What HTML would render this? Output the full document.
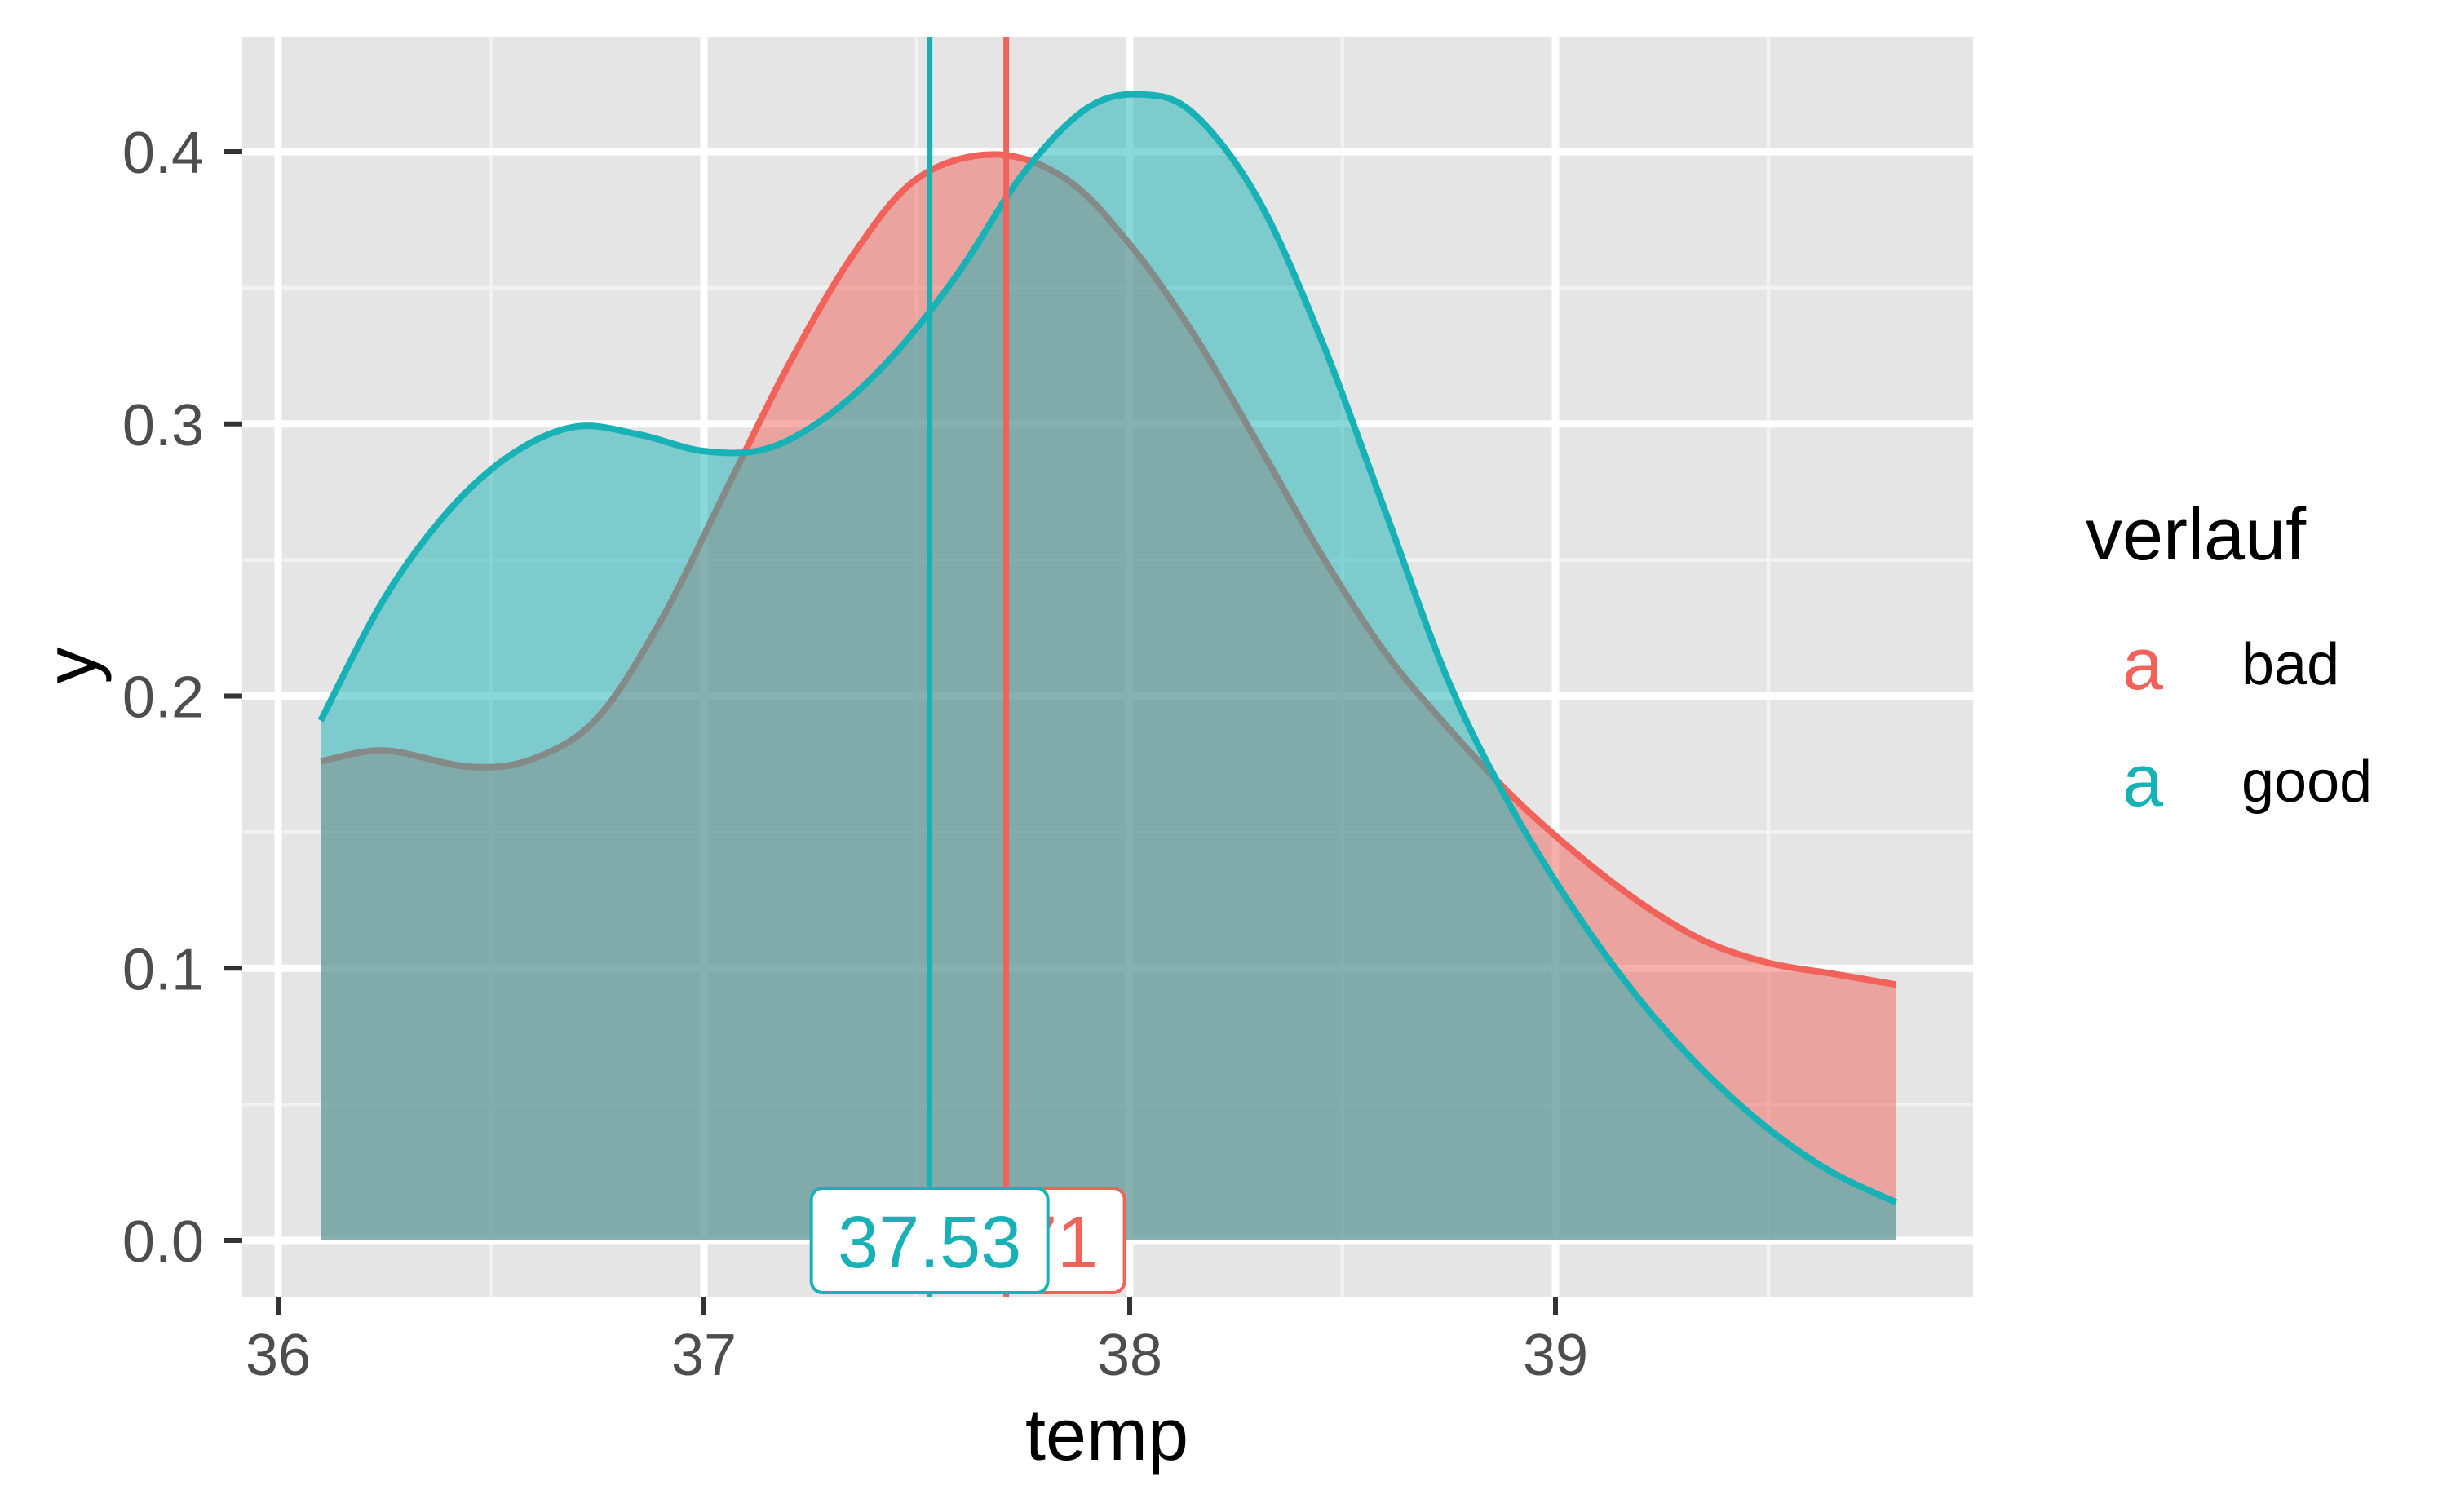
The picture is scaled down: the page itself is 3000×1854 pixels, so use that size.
<!DOCTYPE html>
<html><head><meta charset="utf-8"><style>
html,body{margin:0;padding:0;background:#fff;}
svg{display:block;font-family:"Liberation Sans",Arial,sans-serif;}
</style></head><body>
<svg id="chart" width="3000" height="1854" viewBox="0 0 3000 1854" xmlns="http://www.w3.org/2000/svg">
<rect x="0" y="0" width="3000" height="1854" fill="#fff"/>
<rect x="297" y="45" width="2122" height="1545" fill="#e5e5e5"/>
<g id="grid"></g>
<g id="marks"></g>
<g id="axes"></g>
<text x="1357" y="1790" font-size="90" text-anchor="middle" fill="#000">temp</text>
<text transform="translate(118,816) rotate(-90)" font-size="90" text-anchor="middle" fill="#000">y</text>
<g>
<text x="2557" y="686" font-size="90" fill="#000">verlauf</text>
<g>
<text x="2627" y="845" font-size="90" text-anchor="middle" fill="#F0625A">a</text>
<text x="2748" y="839" font-size="72" fill="#000">bad</text>
</g>
<g>
<text x="2627" y="988" font-size="90" text-anchor="middle" fill="#18B2B6">a</text>
<text x="2748" y="983" font-size="72" fill="#000">good</text>
</g>
</g>
</svg>
<script>
const xTicks = [36, 37, 38, 39];
const xMinor = [36.5, 37.5, 38.5, 39.5];
const yTicks = [0.0, 0.1, 0.2, 0.3, 0.4];
const yTickLabels = ["0.0", "0.1", "0.2", "0.3", "0.4"];
const yMinor = [0.05, 0.15, 0.25, 0.35];
const badX = [36.10,36.25,36.45,36.60,36.75,36.90,37.05,37.20,37.35,37.50,37.68,37.85,38.00,38.15,38.30,38.45,38.60,38.75,38.90,39.05,39.20,39.35,39.50,39.65,39.80];
const badY = [0.176,0.180,0.174,0.177,0.192,0.228,0.275,0.322,0.362,0.390,0.399,0.390,0.366,0.333,0.293,0.252,0.216,0.188,0.163,0.142,0.124,0.110,0.102,0.098,0.094];
const goodX = [36.10,36.25,36.40,36.55,36.70,36.85,37.00,37.15,37.30,37.45,37.60,37.75,37.90,38.03,38.15,38.30,38.45,38.60,38.75,38.90,39.05,39.20,39.35,39.50,39.65,39.80];
const goodY = [0.191,0.236,0.268,0.289,0.299,0.296,0.290,0.291,0.304,0.326,0.356,0.392,0.416,0.421,0.414,0.383,0.331,0.268,0.205,0.158,0.120,0.088,0.062,0.041,0.025,0.014];
const meanBad = 37.71;
const meanGood = 37.53;
const meanBadLabel = "37.71";
const meanGoodLabel = "37.53";

const NS = "http://www.w3.org/2000/svg";
const PL = 297, PR = 2419, PT = 45, PB = 1590;
const RED = '#F0625A', TEAL = '#18B2B6';
function X(t){ return 341 + (t - 36) * 522; }
function Y(v){ return 1521 - v * 3337.5; }
function mk(tag, attrs, parent){
  const e = document.createElementNS(NS, tag);
  for (const k in attrs) e.setAttribute(k, attrs[k]);
  parent.appendChild(e);
  return e;
}
const grid = document.getElementById('grid');
const marks = document.getElementById('marks');
const axes = document.getElementById('axes');

yMinor.forEach(v => {
  const l = mk('line', {x1:PL, x2:PR, y1:Y(v), y2:Y(v), stroke:'#f2f2f2', 'stroke-width':4.5}, grid);
  
  
});
xMinor.forEach(v => {
  const l = mk('line', {x1:X(v), x2:X(v), y1:PT, y2:PB, stroke:'#f2f2f2', 'stroke-width':4.5}, grid);
  
  
});
yTicks.forEach(v => {
  const l = mk('line', {x1:PL, x2:PR, y1:Y(v), y2:Y(v), stroke:'#fff', 'stroke-width':9}, grid);
  
  
});
xTicks.forEach(v => {
  const l = mk('line', {x1:X(v), x2:X(v), y1:PT, y2:PB, stroke:'#fff', 'stroke-width':9}, grid);
  
  
});

function smoothPath(xs, ys){
  const p = xs.map((x,i)=>[X(x), Y(ys[i])]);
  let d = 'M' + p[0][0] + ',' + p[0][1];
  for (let i=0;i<p.length-1;i++){
    const p0 = p[Math.max(0,i-1)], p1 = p[i], p2 = p[i+1], p3 = p[Math.min(p.length-1,i+2)];
    const c1x = p1[0] + (p2[0]-p0[0])/6, c1y = p1[1] + (p2[1]-p0[1])/6;
    const c2x = p2[0] - (p3[0]-p1[0])/6, c2y = p2[1] - (p3[1]-p1[1])/6;
    d += ' C' + c1x + ',' + c1y + ' ' + c2x + ',' + c2y + ' ' + p2[0] + ',' + p2[1];
  }
  return d;
}
function drawDensity(xs, ys, color, name){
  const line = smoothPath(xs, ys);
  const area = line + ' L' + X(xs[xs.length-1]) + ',' + Y(0) + ' L' + X(xs[0]) + ',' + Y(0) + ' Z';
  const a = mk('path', {d:area, fill:color, 'fill-opacity':0.5, stroke:'none'}, marks);
  
  
  const l = mk('path', {d:line, fill:'none', stroke:color, 'stroke-width':8}, marks);
  
  
}
drawDensity(badX, badY, RED, 'bad');
drawDensity(goodX, goodY, TEAL, 'good');

const vg = mk('line', {x1:X(meanGood), x2:X(meanGood), y1:PT, y2:PB, stroke:TEAL, 'stroke-width':7}, marks);


const vb = mk('line', {x1:X(meanBad), x2:X(meanBad), y1:PT, y2:PB, stroke:RED, 'stroke-width':7}, marks);



function drawLabel(val, txt, color, name){
  const cx = X(val), cy = Y(0);
  const g = mk('g', {}, marks);
  
  
  const r = mk('rect', {x:cx-145, y:cy-64, width:290, height:128, rx:14, ry:14, fill:'#fff', stroke:color, 'stroke-width':4}, g);
  
  
  const t = mk('text', {x:cx, y:cy+33, 'font-size':90, 'text-anchor':'middle', fill:color}, g);
  t.textContent = txt;
  
  
}
drawLabel(meanBad, meanBadLabel, RED, 'bad');
drawLabel(meanGood, meanGoodLabel, TEAL, 'good');

yTicks.forEach((v,i) => {
  const tk = mk('line', {x1:275, x2:297, y1:Y(v), y2:Y(v), stroke:'#333', 'stroke-width':6}, axes);
  
  
  const t = mk('text', {x:250, y:Y(v)+26, 'font-size':72, 'text-anchor':'end', fill:'#4d4d4d'}, axes);
  t.textContent = yTickLabels[i];
  
  
});
xTicks.forEach(v => {
  const tk = mk('line', {x1:X(v), x2:X(v), y1:1590, y2:1612, stroke:'#333', 'stroke-width':6}, axes);
  
  
  const t = mk('text', {x:X(v), y:1686, 'font-size':72, 'text-anchor':'middle', fill:'#4d4d4d'}, axes);
  t.textContent = String(v);
  
  
});
</script>
</body></html>
